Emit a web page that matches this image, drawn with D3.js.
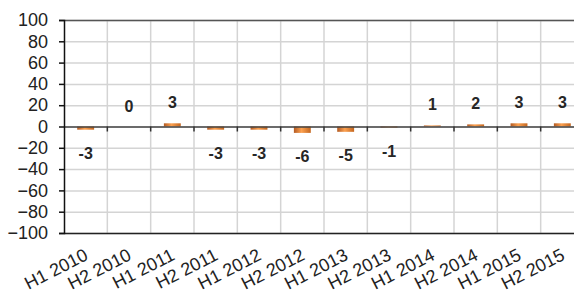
<!DOCTYPE html>
<html>
<head>
<meta charset="utf-8">
<script src="https://cdn.jsdelivr.net/npm/d3@7"></script>
<style>
  body { margin: 0; background: #fff; }
  svg { display: block; font-family: "Liberation Sans", Arial, sans-serif; }
</style>
</head>
<body>
<svg id="chart" width="574" height="300"></svg>
<script>
// half-year periods and values
const periods = ["H1 2010", "H2 2010", "H1 2011", "H2 2011", "H1 2012", "H2 2012",
                 "H1 2013", "H2 2013", "H1 2014", "H2 2014", "H1 2015", "H2 2015"];
const values = [-3, 0, 3, -3, -3, -6, -5, -1, 1, 2, 3, 3];
const yTicks = [100, 80, 60, 40, 20, 0, -20, -40, -60, -80, -100];

const margin = {left: 64, top: 20};
const plotW = 520, plotH = 213;   // right side runs past the window, as in the original

const svg = d3.select("#chart");

const defs = svg.append("defs");
const grad = defs.append("linearGradient").attr("id", "barGrad")
    .attr("x1", "0%").attr("x2", "100%").attr("y1", "0%").attr("y2", "0%");
grad.append("stop").attr("offset", "0%").attr("stop-color", "#b35a22");
grad.append("stop").attr("offset", "45%").attr("stop-color", "#fca150");
grad.append("stop").attr("offset", "100%").attr("stop-color", "#c4661f");

const x = d3.scaleBand().domain(periods).range([margin.left, margin.left + plotW]);
const y = d3.scaleLinear().domain([-100, 100]).range([margin.top + plotH, margin.top]);

const g = svg.append("g");

// horizontal gridlines
g.selectAll(".hgrid").data(yTicks).join("line")
    .attr("x1", margin.left).attr("x2", margin.left + plotW)
    .attr("y1", d => y(d) + 0.5).attr("y2", d => y(d) + 0.5)
    .attr("stroke", "#d4d4d4").attr("stroke-width", 1.5);

// vertical gridlines at category borders
g.selectAll(".vgrid").data(periods.slice(1)).join("line")
    .attr("x1", d => x(d)).attr("x2", d => x(d))
    .attr("y1", margin.top).attr("y2", margin.top + plotH)
    .attr("stroke", "#d4d4d4").attr("stroke-width", 1.5);

// top and bottom border of plot
g.append("line").attr("x1", margin.left).attr("x2", margin.left + plotW)
    .attr("y1", y(100) + 0.5).attr("y2", y(100) + 0.5).attr("stroke", "#555").attr("stroke-width", 1.5);
g.append("line").attr("x1", margin.left).attr("x2", margin.left + plotW)
    .attr("y1", y(-100) + 0.5).attr("y2", y(-100) + 0.5).attr("stroke", "#222").attr("stroke-width", 1.5);

// bars
const bw = x.bandwidth() * 0.39;
g.selectAll(".bar").data(periods).join("rect")
    .attr("x", (d, i) => x(d) + x.bandwidth() / 2 - bw / 2)
    .attr("y", (d, i) => y(Math.max(0, values[i])))
    .attr("width", bw)
    .attr("height", (d, i) => Math.abs(y(values[i]) - y(0)))
    .attr("fill", "url(#barGrad)");

// zero axis with ticks
g.append("line").attr("x1", margin.left).attr("x2", margin.left + plotW)
    .attr("y1", y(0) + 0.5).attr("y2", y(0) + 0.5).attr("stroke", "#444").attr("stroke-width", 1.5);
g.selectAll(".xtick").data(periods.slice(1)).join("line")
    .attr("x1", d => x(d)).attr("x2", d => x(d))
    .attr("y1", y(0)).attr("y2", y(0) + 5)
    .attr("stroke", "#333").attr("stroke-width", 1.5);

// y axis
const yAxis = d3.axisLeft(y).tickValues(yTicks).tickSize(5).tickPadding(11);
const ya = svg.append("g").attr("transform", `translate(${margin.left},0)`).call(yAxis);
ya.select(".domain").attr("stroke", "#111").attr("stroke-width", 1.5);
ya.selectAll(".tick line").attr("stroke", "#111").attr("stroke-width", 1.5);
ya.selectAll(".tick text").attr("font-size", 18).attr("fill", "#222")
    .attr("font-family", "Liberation Sans, Arial, sans-serif");

// data labels
g.selectAll(".lbl").data(periods).join("text")
    .attr("x", d => x(d) + x.bandwidth() / 2)
    .attr("y", (d, i) => values[i] >= 0 ? y(values[i]) - 15 : y(values[i]) + 29)
    .attr("text-anchor", "middle")
    .attr("font-size", 16).attr("font-weight", "bold").attr("fill", "#262626")
    .text((d, i) => values[i]);

// rotated category labels
g.selectAll(".xlbl").data(periods).join("text")
    .attr("transform", d => `translate(${x(d) + x.bandwidth() / 2 + 3.5},${y(-100) + 26}) rotate(-27)`)
    .attr("text-anchor", "end")
    .attr("font-size", 18).attr("fill", "#222")
    .text(d => d);
</script>
</body>
</html>
